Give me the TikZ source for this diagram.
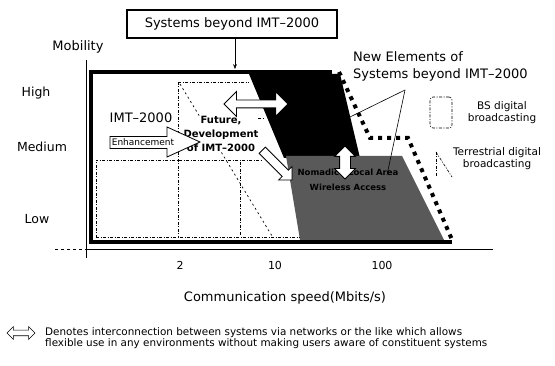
\documentclass[tikz,border=0pt]{standalone}
\usepackage{fontspec}
\setmainfont{DejaVu Sans}
\usetikzlibrary{arrows.meta,positioning,shapes.arrows}

\tikzset{
  lab/.style={inner sep=0pt, font=\fontsize{13}{17}\selectfont},
  rowlab/.style={inner sep=0pt, font=\fontsize{12.5}{15}\selectfont},
  keylab/.style={inner sep=0pt, align=center, font=\fontsize{10.5}{12}\selectfont},
  ticklab/.style={inner sep=0pt, font=\fontsize{11}{13}\selectfont},
  region/.style={line width=0.6pt, dash pattern=on 3pt off 1.5pt on 1pt off 1.5pt},
  sparse/.style={line width=0.7pt, dash pattern=on 2pt off 3pt},
  frame/.style={line width=4.5pt},
  newedge/.style={line width=4pt, dash pattern=on 4pt off 5pt},
  hollow/.style={draw, fill=white, line width=0.8pt},
}

\begin{document}
\begin{tikzpicture}[x=1pt, y=-1pt, >=Stealth]
  \useasboundingbox (0,0) rectangle (555,366);

  % Areas of the new elements
  \fill[black] (249,74) -- (340,74) -- (360,158) -- (284,158) -- cycle;
  \fill[black!65] (286,156) -- (402,156) -- (444,240) -- (300,240) -- cycle;

  % Boundaries of IMT-2000 and broadcasting
  \draw[region] (178,82) -- (178,238);
  \draw[region] (178,82) -- (249,82);
  \draw[region] (96,238) -- (96,160) -- (262,160);
  \draw[region] (96,237) -- (300,237);
  \draw[region] (240,162) -- (240,236);
  \draw[sparse] (180,84) -- (272,236);
  \draw[region] (244,118) -- (264,118);

  % Frame of systems beyond IMT-2000
  \draw[frame] (332,72) -- (90.75,72) -- (90.75,242) -- (452,242);
  \draw[newedge] (339,72) -- (370,138) -- (408,138) -- (453,242);

  % Axes
  \draw[line width=0.6pt] (86,60) -- (86,258);
  \draw[line width=0.6pt] (86,249) -- (493,249);
  \draw[line width=0.6pt, dashed] (55,249) -- (86,249);

  % Title box and its arrow
  \node[draw, line width=2pt, minimum width=210pt, minimum height=28pt, lab] (sysbox) at (232,24) {Systems beyond IMT--2000};
  \coordinate (frametop) at (235,69);
  \draw[->] (sysbox.south -| frametop) -- (frametop);

  % Axis and row labels
  \node[lab] (mobility) at (78,47) {Mobility};
  \node[rowlab] (high) at (36,93) {High};
  \node[rowlab] (medium) at (42,147) {Medium};
  \node[rowlab] (low) at (37,219) {Low};
  \node[ticklab] (tick2) at (180,265) {2};
  \node[ticklab] (tick10) at (275,265) {10};
  \node[ticklab] (tick100) at (382,265) {100};
  \node[lab] (speed) at (285,298) {Communication speed(Mbits/s)};

  % IMT-2000 and its enhancement
  \node[lab] (imt) at (141,118) {IMT--2000};
  \node[fill=white, inner sep=0pt, align=center, font=\bfseries\fontsize{10}{14}\selectfont] (future) at (221,134) {Future,\\Development\\of IMT--2000};
  \draw[hollow] (110,136.5) -- (167,136.5) -- (167,127) -- (200,142) -- (167,157) -- (167,148.5) -- (110,148.5) -- cycle;
  \node[inner sep=0pt, font=\fontsize{9}{10}\selectfont] (enh) at (143,142.5) {Enhancement};

  % Text in the nomadic area
  \node[align=center, inner sep=0pt, font=\bfseries\fontsize{8.5}{15}\selectfont] (nomadic) at (348,180) {Nomadic / Local Area\\Wireless Access};

  % White arrows
  \node[double arrow, hollow, minimum height=64pt, inner sep=3.5pt, double arrow head extend=8.5pt] (link) at (256,104) {};
  \node[double arrow, hollow, rotate=90, minimum height=33pt, inner sep=5pt, double arrow head extend=5pt] (uplink) at (345,162.5) {};
  \node[single arrow, hollow, rotate=-45, minimum height=42pt, inner sep=4pt, single arrow head extend=5pt, anchor=tail] (push) at (262,150) {};

  % New elements label with pointers
  \node[lab, anchor=west, align=left] (newel) at (353,66.5) {New Elements of\\Systems beyond IMT--2000};
  \coordinate (fork) at (405,90);
  \coordinate (newmob) at (348,118);
  \coordinate (newnom) at (387,175);
  \draw[line width=0.6pt] (fork) -- (newmob);
  \draw[line width=0.6pt] (fork) -- (newnom);

  % Broadcasting keys
  \node[draw, region, rounded corners=3pt, minimum width=22pt, minimum height=31pt] (bskey) at (441,112.5) {};
  \node[keylab] (bstext) at (502,112.5) {BS digital\\broadcasting};
  \draw[region] (436,152) -- (436,177);
  \draw[region] (436,152) -- (452,177);
  \node[keylab] (tdtext) at (497,159) {Terrestrial digital\\broadcasting};

  % Legend
  \node[double arrow, draw, line width=0.6pt, minimum height=28pt, inner sep=2.5pt, double arrow head extend=3.5pt] (keyarrow) at (21,333) {};
  \node[anchor=west, align=left, inner sep=0pt, font=\fontsize{10.4}{10}\selectfont] (keytext) at (45,338) {Denotes interconnection between systems via networks or the like which allows\\flexible use in any environments without making users aware of constituent systems};
\end{tikzpicture}
\end{document}
